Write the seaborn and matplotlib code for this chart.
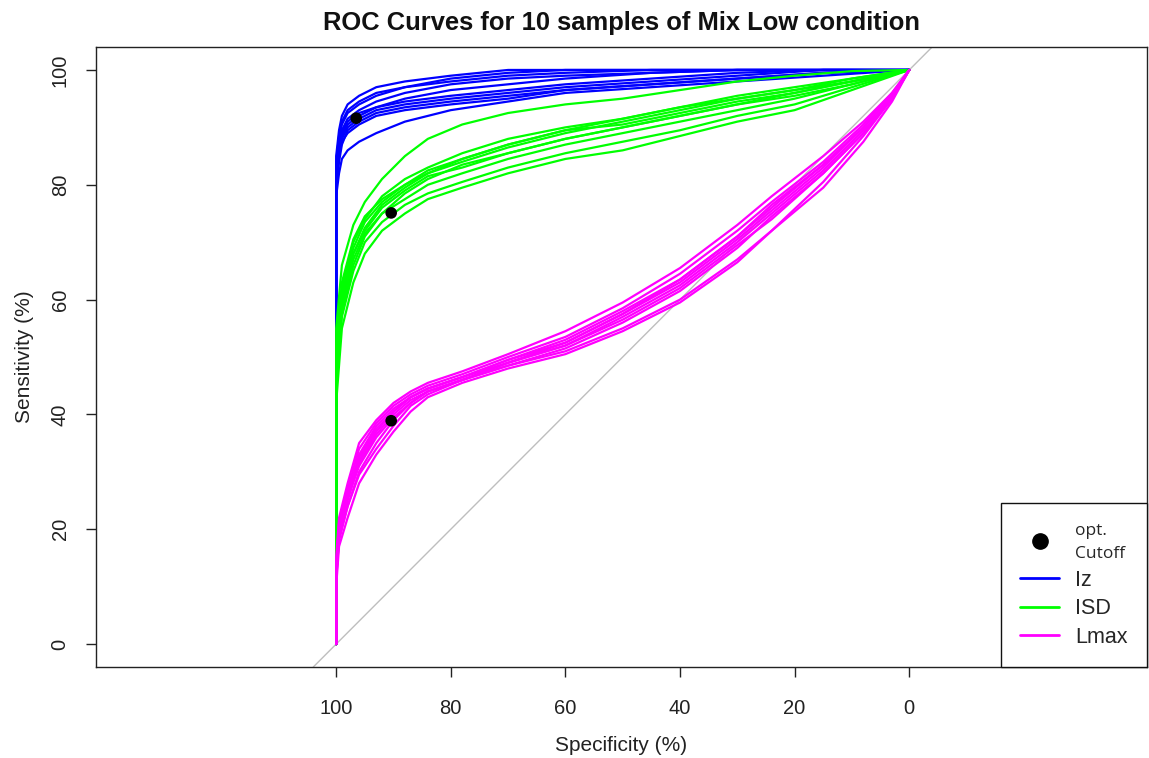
import pandas as pd
import numpy as np
import seaborn as sns
import matplotlib.pyplot as plt
from matplotlib.lines import Line2D

sns.set_theme(style="ticks")
plt.rcParams['font.family'] = ['Liberation Sans', 'DejaVu Sans']

conditions = ["Iz", "ISD", "Lmax"]
palette = {"Iz": "#0000FF", "ISD": "#00FF00", "Lmax": "#FF00FF"}

# specificity grid (%) per condition, sensitivity (%) per sample
spec_iz = [100, 100, 99.5, 99, 98, 96, 93, 88, 80, 70, 60, 45, 30, 15, 0]
iz_sens = [
    [0, 85, 89.5, 92, 94, 95.5, 97, 98, 99, 100, 100, 100, 100, 100, 100],
    [0, 83, 88, 90.5, 92.5, 94, 95.5, 97, 98.5, 99.5, 100, 100, 100, 100, 100],
    [0, 80, 86, 88.5, 90.5, 92, 93.5, 95, 96.5, 97.5, 98.5, 99.5, 100, 100, 100],
    [0, 81, 85, 88, 90, 91.5, 93, 94, 95, 96, 97, 98, 99, 100, 100],
    [0, 79, 84, 87, 89.5, 91, 92.5, 93.5, 94.5, 95.5, 96.5, 97.5, 98.5, 99.5, 100],
    [0, 84, 88.5, 91, 93, 94.5, 96, 97, 98, 99, 99.5, 100, 100, 100, 100],
    [0, 80, 85, 87.5, 89, 90.5, 92, 93, 94, 95, 96.5, 97.5, 98.5, 99.5, 100],
    [0, 78, 82, 84.5, 86, 87.5, 89, 91, 93, 94.5, 96, 97, 98, 99, 100],
    [0, 82, 87, 89.5, 91.5, 93, 94.5, 96, 97.5, 98.5, 99, 99.5, 100, 100, 100],
    [0, 81, 86, 89, 91, 92.5, 93.5, 94.5, 95.5, 96.5, 97.5, 98.5, 99.5, 100, 100],
]

spec_isd = [100, 100, 99, 97, 95, 92, 88, 84, 78, 70, 60, 50, 40, 30, 20, 10, 0]
isd_sens = [
    [0, 55, 66, 73, 77, 81, 85, 88, 90.5, 92.5, 94, 95, 96.5, 98, 99, 99.8, 100],
    [0, 50, 62, 70, 74, 78, 81, 83, 85.5, 88, 90, 91.5, 93.5, 95.5, 97, 98.5, 100],
    [0, 48, 60, 68, 72.5, 76.5, 79.5, 82, 84, 86.5, 89, 91, 93, 95, 96.5, 98, 100],
    [0, 45, 58, 66, 71, 75, 78.5, 81, 83.5, 85.5, 88, 90, 92, 94, 96, 98, 100],
    [0, 52, 63, 70.5, 74.5, 77.5, 80, 82.5, 84.5, 87, 89.5, 91.5, 93.5, 95, 96.5, 98.5, 100],
    [0, 47, 59, 67, 71.5, 75, 77.5, 80, 82, 84.5, 87, 89, 91, 93, 95, 97.5, 100],
    [0, 44, 57, 65, 70, 73.5, 76.5, 78.5, 80.5, 83, 85.5, 87.5, 89.5, 92, 94, 97, 100],
    [0, 42, 55, 63, 68, 72, 75, 77.5, 79.5, 82, 84.5, 86, 88.5, 91, 93, 96.5, 100],
    [0, 50, 61, 69, 73.5, 77, 80, 82, 84.5, 87, 89.5, 90.5, 92.5, 94.5, 96, 98, 100],
    [0, 46, 60, 68, 72, 76, 79, 81.5, 83, 85.5, 88, 90, 92, 94, 95.5, 97.5, 100],
]

spec_lmax = [100, 100, 99.5, 98, 96, 93, 90, 87, 84, 78, 70, 60, 50, 40, 30, 24, 15, 8, 3, 0]
lmax_sens = [
    [0, 15, 22, 28, 35, 39, 42, 44, 45.5, 47.5, 50.5, 54.5, 59.5, 65.5, 73, 78, 85, 91, 96, 100],
    [0, 13, 21, 27, 34, 38.5, 41.5, 43.5, 45, 47, 50, 53.5, 58.5, 64.5, 72, 77, 84, 90.5, 96, 100],
    [0, 12, 20, 26, 33, 38, 41, 43, 44.5, 46.5, 49.5, 53, 58, 63.5, 71, 76, 83.5, 90, 95.5, 100],
    [0, 14, 21, 26.5, 32, 37, 40.5, 43, 44.5, 46.5, 49, 52.5, 57.5, 63, 70.5, 75.5, 83, 90, 95.5, 100],
    [0, 11, 19, 25, 31.5, 36.5, 40, 42.5, 44, 46, 49, 52, 57, 62.5, 70, 75, 82.5, 89.5, 95, 100],
    [0, 12, 18, 24, 30, 35, 39, 42, 44, 46, 48.5, 51.5, 56, 61.5, 69, 74.5, 82, 89, 95, 100],
    [0, 10, 17, 22, 28, 33, 37, 40.5, 43, 45.5, 48, 50.5, 54.5, 59.5, 66.5, 72, 80.5, 88.5, 95, 100],
    [0, 13, 20, 25.5, 32.5, 37.5, 40.5, 43, 44.5, 46.5, 49.5, 52.5, 57.5, 63.5, 71, 76.5, 83.5, 90, 95.5, 100],
    [0, 11, 18.5, 24, 29.5, 34, 38, 41.5, 43.5, 46, 48.5, 51, 55, 60, 67, 72, 79.5, 87.5, 94.5, 100],
    [0, 12, 19.5, 25.5, 31, 36, 39.5, 42, 44, 46, 49, 52, 56.5, 62, 69.5, 74, 82, 89, 95, 100],
]

# optimal cutoff points
cut_spec = [96.5, 90.4, 90.4]
cut_sens = [91.6, 75.1, 38.9]

rows = []
for cond, spec, curves in zip(conditions, [spec_iz, spec_isd, spec_lmax], [iz_sens, isd_sens, lmax_sens]):
    for i, sens in enumerate(curves):
        for sp, se in zip(spec, sens):
            rows.append({"condition": cond, "sample": i, "spec": sp, "sens": se})
df = pd.DataFrame(rows)

fig = plt.figure(figsize=(11.49, 7.58), dpi=100)
ax = fig.add_axes([0.0836, 0.120, 0.9147, 0.818])

ax.axline((100, 0), (0, 100), color="#BEBEBE", lw=1, zorder=1)

sns.lineplot(
    data=df, x="spec", y="sens", hue="condition", hue_order=conditions,
    units="sample", estimator=None, sort=False, palette=palette,
    lw=1.6, legend=False, ax=ax, zorder=2,
)
sns.scatterplot(x=cut_spec, y=cut_sens, color="black", s=70, edgecolor="none", ax=ax, zorder=3)

ax.set_xlim(141.9, -41.5)
ax.set_ylim(-4, 104)
ax.set_xticks([100, 80, 60, 40, 20, 0])
ax.set_yticks([0, 20, 40, 60, 80, 100])
ax.tick_params(direction="out", length=7, width=1, colors="#222222", labelsize=14.5)
ax.tick_params(axis="x", pad=16)
ax.tick_params(axis="y", pad=12)
for lab in ax.get_yticklabels():
    lab.set_rotation(90)
    lab.set_va("center")
for s in ax.spines.values():
    s.set_visible(True)
    s.set_color("#222222")
    s.set_linewidth(1)

ax.set_xlabel("Specificity (%)", fontsize=15, color="#222222", labelpad=13)
ax.set_ylabel("Sensitivity (%)", fontsize=15, color="#222222", labelpad=12)
ax.set_title("ROC Curves for 10 samples of Mix Low condition", fontsize=18.4,
             fontweight="bold", color="#111111", pad=12)

handles = [Line2D([], [], marker="o", color="black", markersize=11, linestyle="none")]
handles += [Line2D([], [], color=palette[c], lw=2) for c in conditions]
labels = ["opt.\nCutoff"] + conditions
leg = ax.legend(handles, labels, loc="lower right", borderaxespad=0, fancybox=False,
                framealpha=1, edgecolor="#111111", fontsize=15.5, handlelength=1.8,
                borderpad=0.9, labelspacing=0.35, handletextpad=0.75)
leg.get_frame().set_linewidth(1)
first = leg.get_texts()[0]
first.set_fontsize(12.5)
first.set_family(["Open Sans", "DejaVu Sans"])
first.set_linespacing(1.6)

fig.savefig("out.png", dpi=100)
